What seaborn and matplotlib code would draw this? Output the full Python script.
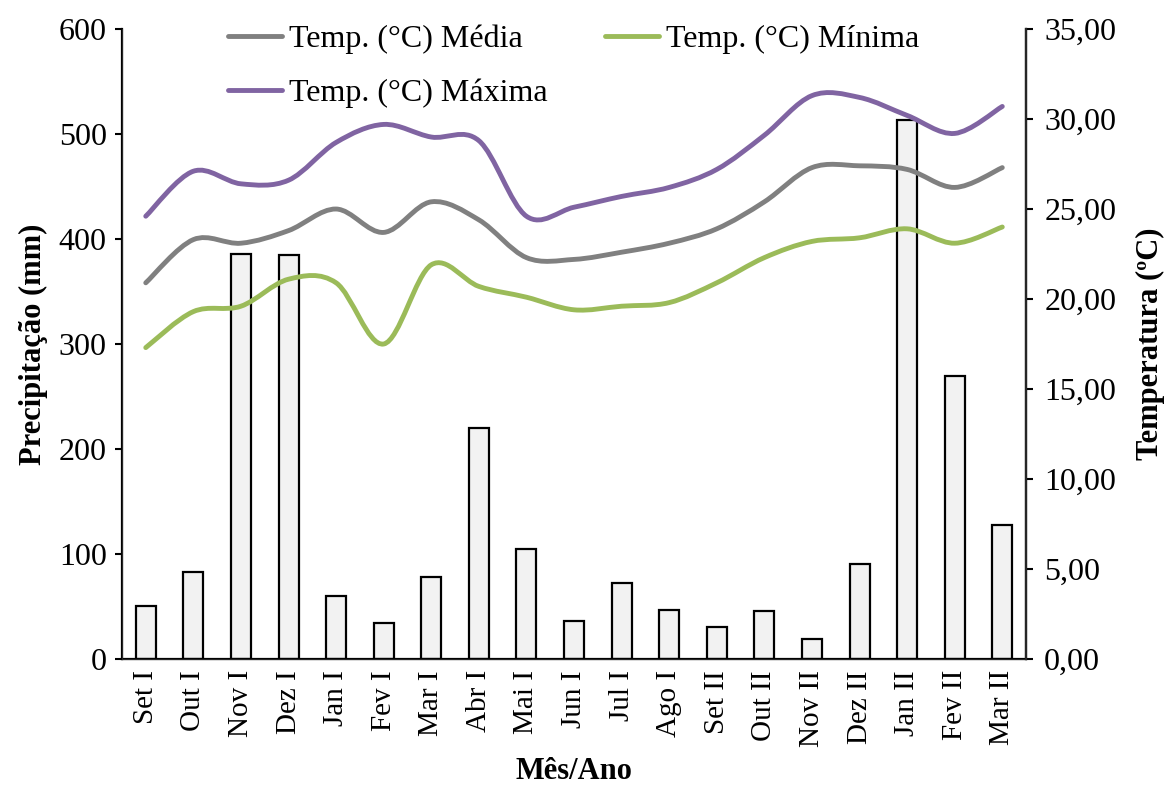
import numpy as np
import pandas as pd
import seaborn as sns
import matplotlib
matplotlib.use("Agg")
import matplotlib.pyplot as plt
from matplotlib.path import Path
from matplotlib.patches import PathPatch
from matplotlib.lines import Line2D
from matplotlib.ticker import FuncFormatter

months = ['Set I', 'Out I', 'Nov I', 'Dez I', 'Jan I', 'Fev I', 'Mar I', 'Abr I',
          'Mai I', 'Jun I', 'Jul I', 'Ago I', 'Set II', 'Out II', 'Nov II',
          'Dez II', 'Jan II', 'Fev II', 'Mar II']
precip = [50, 83, 386, 385, 60, 34, 78, 220, 105, 36, 72, 47, 30, 46, 19, 90, 513, 270, 128]
temp_media = [20.9, 23.3, 23.1, 23.8, 25.0, 23.7, 25.4, 24.4, 22.3, 22.2, 22.6, 23.1,
              23.9, 25.4, 27.3, 27.4, 27.2, 26.2, 27.3]
temp_min = [17.3, 19.3, 19.6, 21.1, 20.9, 17.5, 21.9, 20.7, 20.1, 19.4, 19.6, 19.8,
            20.9, 22.3, 23.2, 23.4, 23.9, 23.1, 24.0]
temp_max = [24.6, 27.1, 26.4, 26.6, 28.7, 29.7, 29.0, 28.8, 24.6, 25.1, 25.7, 26.2,
            27.2, 29.1, 31.3, 31.2, 30.2, 29.2, 30.7]

sns.set_style("white")
plt.rcParams['font.family'] = ['Liberation Serif', 'DejaVu Serif']
for k in ['text.color', 'axes.labelcolor', 'xtick.color', 'ytick.color']:
    plt.rcParams[k] = 'black'

tick_fs = 23
xtick_fs = 21
label_fs = 22
legend_fs = 23


# smoothed line like the spreadsheet: Bezier through the points (Catmull-Rom controls)
def smoothPath(ys):
    xs = np.arange(len(ys), dtype=float)
    ys = np.asarray(ys, dtype=float)
    verts = [(xs[0], ys[0])]
    codes = [Path.MOVETO]
    n = len(xs)
    for i in range(n - 1):
        p0 = (xs[max(i - 1, 0)], ys[max(i - 1, 0)])
        p1 = (xs[i], ys[i])
        p2 = (xs[i + 1], ys[i + 1])
        p3 = (xs[min(i + 2, n - 1)], ys[min(i + 2, n - 1)])
        c1 = (p1[0] + (p2[0] - p0[0]) / 6, p1[1] + (p2[1] - p0[1]) / 6)
        c2 = (p2[0] - (p3[0] - p1[0]) / 6, p2[1] - (p3[1] - p1[1]) / 6)
        verts += [c1, c2, p2]
        codes += [Path.CURVE4] * 3
    return Path(verts, codes)


fig = plt.figure(figsize=(11.66, 7.89), dpi=100)
fig.set_facecolor('white')
ax = fig.add_axes([0.1046, 0.1648, 0.7754, 0.7984])

df = pd.DataFrame({'mes': months, 'precip': precip})
sns.barplot(data=df, x='mes', y='precip', ax=ax, color='#F2F2F2', width=0.42,
            edgecolor='black', linewidth=1.6, saturation=1)
ax.set_xlim(-0.5, len(months) - 0.5)
ax.set_ylim(0, 600)
ax.set_yticks(range(0, 601, 100))
ax.set_xticks(np.arange(-0.5, len(months), 1.0))
ax.set_xticklabels([])
ax.set_xticks(range(len(months)), minor=True)
ax.set_xticklabels(months, minor=True, rotation=90, fontsize=xtick_fs)
ax.tick_params(axis='x', which='major', direction='out', length=6, width=1.5)
ax.tick_params(axis='x', which='minor', length=0, pad=8)
ax.tick_params(axis='y', direction='out', length=5, width=1.5, labelsize=tick_fs, pad=6)
ax.set_xlabel('Mês/Ano', fontsize=label_fs, fontweight='bold', labelpad=7)
ax.set_ylabel('Precipitação (mm)', fontsize=label_fs, fontweight='bold', labelpad=8)
ax.spines['top'].set_visible(False)
for s in ['left', 'bottom', 'right']:
    ax.spines[s].set_linewidth(1.6)
    ax.spines[s].set_color('black')

ax2 = ax.twinx()
ax2.set_ylim(0, 35)
ax2.set_yticks(np.arange(0, 35.1, 5))
ax2.yaxis.set_major_formatter(FuncFormatter(lambda v, p: f"{v:.2f}".replace('.', ',')))
ax2.tick_params(axis='y', direction='out', length=5, width=1.5, labelsize=tick_fs, pad=8)
ax2.set_ylabel('Temperatura (ºC)', fontsize=label_fs, fontweight='bold', labelpad=14)
ax2.spines['top'].set_visible(False)
ax2.spines['right'].set_linewidth(1.6)

series = [('Temp. (°C) Média', temp_media, '#808080'),
          ('Temp. (°C) Mínima', temp_min, '#9BBB59'),
          ('Temp. (°C) Máxima', temp_max, '#8064A2')]
handles = {}
for label, vals, col in series:
    ax2.add_patch(PathPatch(smoothPath(vals), facecolor='none', edgecolor=col,
                            linewidth=3.5, capstyle='round', joinstyle='round'))
    handles[label] = Line2D([], [], color=col, linewidth=3.5, solid_capstyle='round')

order = ['Temp. (°C) Média', 'Temp. (°C) Máxima', 'Temp. (°C) Mínima']
fig.legend([handles[k] for k in order], order, ncol=2, frameon=False,
           fontsize=legend_fs, loc='upper left', bbox_to_anchor=(0.171, 1.005),
           handlelength=1.7, handletextpad=0.2, columnspacing=1.8,
           labelspacing=0.75)

plt.savefig('out.png', dpi=100)
